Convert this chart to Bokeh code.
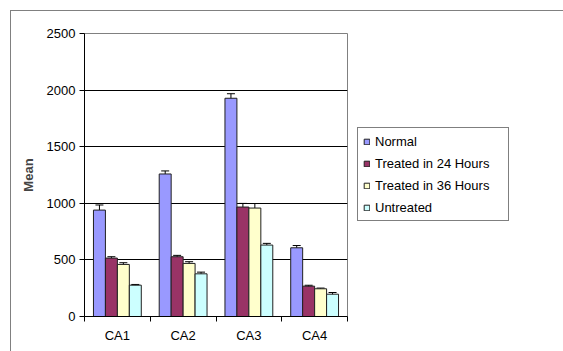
from bokeh.plotting import figure
from bokeh.models import (ColumnDataSource, Whisker, TeeHead, FixedTicker, Legend, LegendItem)
from bokeh.embed import file_html
from bokeh.resources import INLINE

categories = ["CA1", "CA2", "CA3", "CA4"]
series_names = ["Normal", "Treated in 24 Hours", "Treated in 36 Hours", "Untreated"]
normal = [940, 1259, 1928, 607]
treated24 = [516, 528, 967, 268]
treated36 = [460, 469, 958, 245]
untreated = [277, 377, 631, 197]
err_normal = [45, 27, 40, 20]
err_t24 = [12, 12, 32, 8]
err_t36 = [15, 15, 40, 6]
err_untreated = [6, 15, 15, 15]
y_ticks = [0, 500, 1000, 1500, 2000, 2500]

colors = ["#9999FF", "#993366", "#FFFFCC", "#CCFFFF"]
series = [normal, treated24, treated36, untreated]
errors = [err_normal, err_t24, err_t36, err_untreated]

FONT = "Liberation Sans"

p = figure(output_backend="svg", toolbar_location=None,
           width=552, height=340,
           frame_width=263, frame_height=283,
           x_range=(0.5, 4.5), y_range=(0, 2500),
           min_border_left=73, min_border_top=22, min_border_right=216, min_border_bottom=35,
           background_fill_color="white", border_fill_color="white",
           outline_line_color="#808080", outline_line_width=1)
p.styles = {"margin-left": "10px", "margin-top": "10px",
            "border-left": "1px solid #808080", "border-top": "1px solid #808080"}

bar_w = 12.0 / 66.0
offsets = [-1.5, -0.5, 0.5, 1.5]
items = []
for name, vals, errs, col, off in zip(series_names, series, errors, colors, offsets):
    xs = [i + 1 + off * bar_w for i in range(len(categories))]
    src = ColumnDataSource(dict(x=xs, top=vals,
                                upper=[v + e for v, e in zip(vals, errs)],
                                lower=[v - e for v, e in zip(vals, errs)]))
    r = p.vbar(x="x", top="top", width=bar_w, source=src, fill_color=col,
               line_color="#202020", line_width=1)
    w = Whisker(base="x", upper="upper", lower="lower", source=src,
                line_color="black", line_width=1,
                upper_head=TeeHead(size=8, line_color="black", line_width=1),
                lower_head=TeeHead(size=8, line_color="black", line_width=1))
    p.add_layout(w)
    items.append(LegendItem(label=name, renderers=[r]))

# axes
p.xaxis.ticker = FixedTicker(ticks=[1, 2, 3, 4], minor_ticks=[0.5, 1.5, 2.5, 3.5, 4.5])
p.xaxis.major_label_overrides = {i + 1: c for i, c in enumerate(categories)}
p.xaxis.major_tick_out = 0
p.xaxis.major_tick_in = 0
p.xaxis.minor_tick_out = 5
p.xaxis.minor_tick_in = 0
p.xaxis.minor_tick_line_color = "black"
p.xaxis.axis_line_color = "black"
p.xaxis.major_label_text_font = FONT
p.xaxis.major_label_text_font_size = "13px"
p.xaxis.major_label_text_color = "black"
p.xaxis.major_label_standoff = 6

p.yaxis.ticker = FixedTicker(ticks=y_ticks)
p.yaxis.major_tick_out = 5
p.yaxis.major_tick_in = 0
p.yaxis.minor_tick_line_color = None
p.yaxis.axis_line_color = "black"
p.yaxis.major_tick_line_color = "black"
p.yaxis.major_label_text_font = FONT
p.yaxis.major_label_text_font_size = "13px"
p.yaxis.major_label_text_color = "black"
p.yaxis.major_label_standoff = 4
p.yaxis.axis_label = "Mean"
p.yaxis.axis_label_text_font = FONT
p.yaxis.axis_label_text_font_size = "13px"
p.yaxis.axis_label_text_font_style = "bold"
p.yaxis.axis_label_standoff = 8

p.xgrid.grid_line_color = None
p.ygrid.ticker = FixedTicker(ticks=[500, 1000, 1500, 2000])
p.ygrid.grid_line_color = "black"
p.ygrid.grid_line_width = 1

legend = Legend(items=items, location=(10, 95),
                label_text_font=FONT, label_text_font_size="13px",
                label_text_color="black",
                glyph_width=7, glyph_height=7, label_height=16, spacing=6,
                label_standoff=5, label_width=128, padding=5, margin=0,
                border_line_color="black", border_line_width=1,
                background_fill_color="white", background_fill_alpha=1)
p.add_layout(legend, "right")

open("out.html", "w").write(file_html(p, INLINE))
